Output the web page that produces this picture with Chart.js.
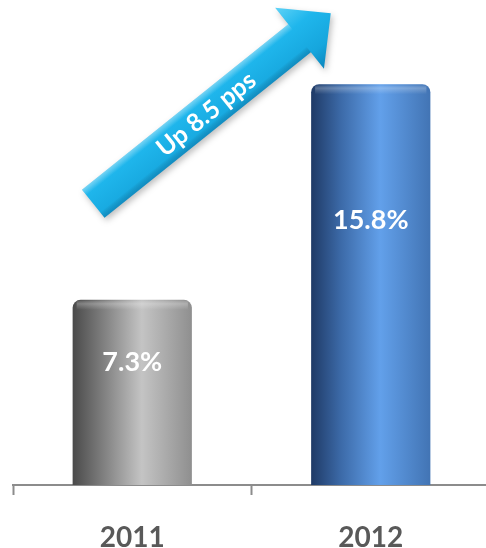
<!DOCTYPE html>
<html>
<head>
<meta charset="utf-8">
<script src="https://cdn.jsdelivr.net/npm/chart.js@4/dist/chart.umd.min.js"></script>
<style>
  html, body { margin: 0; padding: 0; background: #fff; overflow: hidden; }
  #wrap { width: 490px; height: 548px; }
</style>
</head>
<body>
<div id="wrap"><canvas id="chart" width="490" height="548"></canvas></div>
<script>
// chart data
const years = ['2011', '2012'];
const shareValues = [7.3, 15.8];
const valueLabels = ['7.3%', '15.8%'];
const arrowText = 'Up 8.5 pps';

// horizontal gradient stops per bar (dark edge, mid, highlight, right edge)
const barShades = [
    ['#4a4a4a', '#7e7e7e', '#c4c4c4', '#8f8f8f'],
    ['#1f3a66', '#3c6aa8', '#62a0ea', '#4274b4']
];

// give each bar its cylinder shading and its value label
const cylinderPlugin = {
    id: 'cylinder',
    beforeDatasetsDraw(chart) {
        const ctx = chart.ctx;
        chart.getDatasetMeta(0).data.forEach((bar, i) => {
            const left = bar.x - bar.width / 2;
            const right = bar.x + bar.width / 2;
            const g = ctx.createLinearGradient(left, 0, right, 0);
            const s = barShades[i];
            g.addColorStop(0, s[0]);
            g.addColorStop(0.25, s[1]);
            g.addColorStop(0.58, s[2]);
            g.addColorStop(1, s[3]);
            bar.options.backgroundColor = g;
        });
    },
    afterDatasetsDraw(chart) {
        const ctx = chart.ctx;
        chart.getDatasetMeta(0).data.forEach((bar, i) => {
            // soft rim highlight near the top
            const left = bar.x - bar.width / 2;
            ctx.save();
            const g = ctx.createLinearGradient(0, bar.y, 0, bar.y + 10);
            g.addColorStop(0, 'rgba(255,255,255,0.0)');
            g.addColorStop(0.4, 'rgba(255,255,255,0.25)');
            g.addColorStop(1, 'rgba(255,255,255,0)');
            ctx.fillStyle = g;
            ctx.fillRect(left + 4, bar.y + 1, bar.width - 8, 9);
            ctx.restore();

            const h = bar.base - bar.y;
            ctx.save();
            ctx.fillStyle = '#ffffff';
            ctx.font = 'bold 27px Lato, "Open Sans", sans-serif';
            ctx.textAlign = 'center';
            ctx.textBaseline = 'middle';
            ctx.fillText(valueLabels[i], bar.x, bar.y + h * 0.34);
            ctx.restore();
        });
    }
};

// the "Up" arrow running from above the first bar towards the second
const arrowPlugin = {
    id: 'upArrow',
    afterDraw(chart) {
        const bars = chart.getDatasetMeta(0).data;
        if (bars.length < 2) return;
        const ctx = chart.ctx;
        const tail = { x: bars[0].x - 39, y: bars[0].y - 96 };
        const tip = { x: bars[1].x - 40, y: bars[1].y - 71 };
        const ang = Math.atan2(tip.y - tail.y, tip.x - tail.x);
        const len = Math.hypot(tip.x - tail.x, tip.y - tail.y);
        const half = 18;      // half shaft width
        const headLen = 40;
        const headHalf = 39;

        ctx.save();
        ctx.translate(tail.x, tail.y);
        ctx.rotate(ang);

        ctx.beginPath();
        ctx.moveTo(0, -half);
        ctx.lineTo(len - headLen, -half);
        ctx.lineTo(len - headLen, -headHalf);
        ctx.lineTo(len, 0);
        ctx.lineTo(len - headLen, headHalf);
        ctx.lineTo(len - headLen, half);
        ctx.lineTo(0, half);
        ctx.closePath();
        ctx.shadowColor = 'rgba(0,0,0,0.25)';
        ctx.shadowBlur = 6;
        ctx.shadowOffsetX = 2;
        ctx.shadowOffsetY = 3;
        const g = ctx.createLinearGradient(0, -headHalf, 0, headHalf);
        g.addColorStop(0, '#5fd3f7');
        g.addColorStop(0.35, '#1fb6ec');
        g.addColorStop(0.75, '#16a6dd');
        g.addColorStop(1, '#0b86bd');
        ctx.fillStyle = g;
        ctx.fill();
        ctx.shadowColor = 'transparent';

        // bevel along the shaft
        const bevel = ctx.createLinearGradient(0, -half, 0, half);
        bevel.addColorStop(0, 'rgba(255,255,255,0.35)');
        bevel.addColorStop(0.2, 'rgba(255,255,255,0)');
        bevel.addColorStop(0.8, 'rgba(0,0,0,0)');
        bevel.addColorStop(1, 'rgba(0,60,110,0.25)');
        ctx.fillStyle = bevel;
        ctx.fillRect(0, -half, len - headLen, half * 2);

        ctx.fillStyle = '#ffffff';
        ctx.font = 'bold 25px Lato, "Open Sans", sans-serif';
        ctx.textAlign = 'center';
        ctx.textBaseline = 'middle';
        ctx.fillText(arrowText, (len - headLen) / 2 + 12, 1);
        ctx.restore();
    }
};

new Chart(document.getElementById('chart'), {
    type: 'bar',
    data: {
        labels: years,
        datasets: [{
            data: shareValues,
            backgroundColor: ['#9a9a9a', '#4a7fc4'],
            borderWidth: 0,
            borderRadius: { topLeft: 8, topRight: 8 },
            borderSkipped: 'bottom',
            categoryPercentage: 1,
            barPercentage: 0.5
        }]
    },
    options: {
        responsive: false,
        animation: false,
        layout: { padding: { top: 3, left: 13, right: 0, bottom: 0 } },
        plugins: { legend: { display: false }, tooltip: { enabled: false } },
        scales: {
            y: { display: false, min: 0, max: 19 },
            x: {
                offset: true,
                grid: {
                    offset: true,
                    drawOnChartArea: false,
                    drawTicks: true,
                    tickLength: 10,
                    tickWidth: 2,
                    color: '#8c8c8c'
                },
                border: { display: true, color: '#8c8c8c', width: 2 },
                ticks: {
                    color: '#595959',
                    padding: 26,
                    font: { family: 'Lato, "Open Sans", sans-serif', size: 28, weight: 'bold' }
                },
                afterFit(scale) { scale.height = 63; }
            }
        }
    },
    plugins: [cylinderPlugin, arrowPlugin]
});
</script>
</body>
</html>
